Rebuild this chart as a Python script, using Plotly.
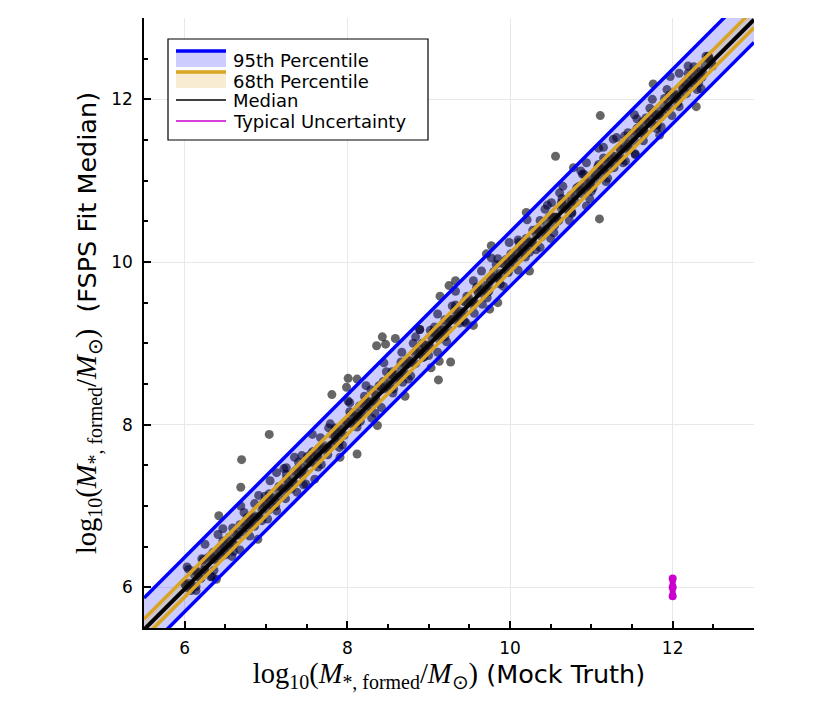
import plotly.graph_objects as go

# === Dados === #
# pontos densos ao longo da diagonal (verdade vs. ajuste)
x_core_a = [6.00, 6.08, 6.16, 6.24, 6.32, 6.40, 6.48, 6.56, 6.64, 6.72, 6.80, 6.88, 6.96, 7.04, 7.12, 7.20,
            7.28, 7.36, 7.44, 7.52, 7.60, 7.68, 7.76, 7.84, 7.92, 8.00, 8.08, 8.16, 8.24, 8.32, 8.40, 8.48,
            8.56, 8.64, 8.72, 8.80, 8.88, 8.96, 9.04, 9.12, 9.20, 9.28, 9.36, 9.44, 9.52, 9.60, 9.68, 9.76,
            9.84, 9.92, 10.00, 10.08, 10.16, 10.24, 10.32, 10.40, 10.48, 10.56, 10.64, 10.72, 10.80, 10.88,
            10.96, 11.04, 11.12, 11.20, 11.28, 11.36, 11.44, 11.52, 11.60, 11.68, 11.76, 11.84, 11.92, 12.00,
            12.08, 12.16, 12.24, 12.32, 12.40, 12.48]
y_core_a = [6.04, 6.02, 6.18, 6.21, 6.39, 6.39, 6.53, 6.48, 6.65, 6.68, 6.86, 6.86, 6.99, 7.08, 7.06, 7.22,
            7.25, 7.43, 7.43, 7.57, 7.52, 7.69, 7.72, 7.90, 7.90, 8.03, 8.12, 8.10, 8.26, 8.29, 8.47, 8.47,
            8.61, 8.56, 8.73, 8.76, 8.94, 8.94, 9.07, 9.16, 9.14, 9.30, 9.33, 9.51, 9.51, 9.65, 9.60, 9.77,
            9.80, 9.98, 9.98, 10.11, 10.20, 10.18, 10.34, 10.37, 10.55, 10.55, 10.69, 10.64, 10.81, 10.84,
            11.02, 11.02, 11.15, 11.24, 11.22, 11.38, 11.41, 11.59, 11.59, 11.73, 11.68, 11.85, 11.88, 12.06,
            12.06, 12.19, 12.28, 12.26, 12.42, 12.45]

x_core_b = [6.04, 6.12, 6.20, 6.28, 6.36, 6.44, 6.52, 6.60, 6.68, 6.76, 6.84, 6.92, 7.00, 7.08, 7.16, 7.24,
            7.32, 7.40, 7.48, 7.56, 7.64, 7.72, 7.80, 7.88, 7.96, 8.04, 8.12, 8.20, 8.28, 8.36, 8.44, 8.52,
            8.60, 8.68, 8.76, 8.84, 8.92, 9.00, 9.08, 9.16, 9.24, 9.32, 9.40, 9.48, 9.56, 9.64, 9.72, 9.80,
            9.88, 9.96, 10.04, 10.12, 10.20, 10.28, 10.36, 10.44, 10.52, 10.60, 10.68, 10.76, 10.84, 10.92,
            11.00, 11.08, 11.16, 11.24, 11.32, 11.40, 11.48, 11.56, 11.64, 11.72, 11.80, 11.88, 11.96, 12.04,
            12.12, 12.20, 12.28, 12.36, 12.44]
y_core_b = [5.99, 6.15, 6.11, 6.36, 6.34, 6.49, 6.52, 6.53, 6.77, 6.73, 6.86, 6.87, 7.03, 6.99, 7.24, 7.22,
            7.37, 7.40, 7.41, 7.65, 7.61, 7.74, 7.75, 7.91, 7.87, 8.12, 8.10, 8.25, 8.28, 8.29, 8.53, 8.49,
            8.62, 8.63, 8.79, 8.75, 9.00, 8.98, 9.13, 9.16, 9.17, 9.41, 9.37, 9.50, 9.51, 9.67, 9.63, 9.88,
            9.86, 10.01, 10.04, 10.05, 10.29, 10.25, 10.38, 10.39, 10.55, 10.51, 10.76, 10.74, 10.89, 10.92,
            10.93, 11.17, 11.13, 11.26, 11.27, 11.43, 11.39, 11.64, 11.62, 11.77, 11.80, 11.81, 12.05, 12.01,
            12.14, 12.15, 12.31, 12.27, 12.52]

x_core_c = [6.05, 6.15, 6.25, 6.35, 6.45, 6.55, 6.65, 6.75, 6.85, 6.95, 7.05, 7.15, 7.25, 7.35, 7.45, 7.55,
            7.65, 7.75, 7.85, 7.95, 8.05, 8.15, 8.25, 8.35, 8.45, 8.55, 8.65, 8.75, 8.85, 8.95, 9.05, 9.15,
            9.25, 9.35, 9.45, 9.55, 9.65, 9.75, 9.85, 9.95, 10.05, 10.15, 10.25, 10.35, 10.45, 10.55, 10.65,
            10.75, 10.85, 10.95, 11.05, 11.15, 11.25, 11.35, 11.45, 11.55, 11.65, 11.75, 11.85, 11.95, 12.05,
            12.15, 12.25, 12.35, 12.45]
y_core_c = [6.05, 6.20, 6.21, 6.43, 6.38, 6.57, 6.64, 6.81, 6.80, 6.95, 7.10, 7.11, 7.33, 7.28, 7.47, 7.54,
            7.71, 7.70, 7.85, 8.00, 8.01, 8.23, 8.18, 8.37, 8.44, 8.61, 8.60, 8.75, 8.90, 8.91, 9.13, 9.08,
            9.27, 9.34, 9.51, 9.50, 9.65, 9.80, 9.81, 10.03, 9.98, 10.17, 10.24, 10.41, 10.40, 10.55, 10.70,
            10.71, 10.93, 10.88, 11.07, 11.14, 11.31, 11.30, 11.45, 11.60, 11.61, 11.83, 11.78, 11.97, 12.04,
            12.21, 12.20, 12.35, 12.50]

x_core_d = [6.01, 6.07, 6.13, 6.19, 6.25, 6.31, 6.37, 6.43, 6.49, 6.55, 6.61, 6.67, 6.73, 6.79, 6.85, 6.91,
            6.97, 7.03, 7.09, 7.15, 7.21, 7.27, 7.33, 7.39, 7.45, 7.51, 7.57, 7.63, 7.69, 7.75, 7.81, 7.87,
            7.93, 7.99, 8.05, 8.11, 8.17, 8.23, 8.29, 8.35, 8.41, 8.47, 8.53, 8.59, 8.65, 8.71, 8.77, 8.83,
            8.89, 8.95, 9.01, 9.07, 9.13, 9.19, 9.25, 9.31, 9.37, 9.43, 9.49, 9.55, 9.61, 9.67, 9.73, 9.79,
            9.85, 9.91, 9.97, 10.03, 10.09, 10.15, 10.21, 10.27, 10.33, 10.39, 10.45, 10.51, 10.57, 10.63,
            10.69, 10.75, 10.81, 10.87, 10.93, 10.99, 11.05, 11.11, 11.17, 11.23, 11.29, 11.35, 11.41, 11.47,
            11.53, 11.59, 11.65, 11.71, 11.77, 11.83, 11.89, 11.95, 12.01, 12.07, 12.13, 12.19, 12.25, 12.31,
            12.37, 12.43, 12.49]
y_core_d = [6.04, 6.03, 6.20, 6.11, 6.26, 6.36, 6.35, 6.46, 6.45, 6.62, 6.53, 6.68, 6.78, 6.77, 6.88, 6.87,
            7.04, 6.95, 7.10, 7.20, 7.19, 7.30, 7.29, 7.46, 7.37, 7.52, 7.62, 7.61, 7.72, 7.71, 7.88, 7.79,
            7.94, 8.04, 8.03, 8.14, 8.13, 8.30, 8.21, 8.36, 8.46, 8.45, 8.56, 8.55, 8.72, 8.63, 8.78, 8.88,
            8.87, 8.98, 8.97, 9.14, 9.05, 9.20, 9.30, 9.29, 9.40, 9.39, 9.56, 9.47, 9.62, 9.72, 9.71, 9.82,
            9.81, 9.98, 9.89, 10.04, 10.14, 10.13, 10.24, 10.23, 10.40, 10.31, 10.46, 10.56, 10.55, 10.66,
            10.65, 10.82, 10.73, 10.88, 10.98, 10.97, 11.08, 11.07, 11.24, 11.15, 11.30, 11.40, 11.39, 11.50,
            11.49, 11.66, 11.57, 11.72, 11.82, 11.81, 11.92, 11.91, 12.08, 11.99, 12.14, 12.24, 12.23, 12.34,
            12.33, 12.50, 12.41]

# pontos mais espalhados dentro da faixa de 95%
x_wide_a = [6.03, 6.14, 6.25, 6.36, 6.47, 6.58, 6.69, 6.80, 6.91, 7.02, 7.13, 7.24, 7.35, 7.46, 7.57, 7.68,
            7.79, 7.90, 8.01, 8.12, 8.23, 8.34, 8.45, 8.56, 8.67, 8.78, 8.89, 9.00, 9.11, 9.22, 9.33, 9.44,
            9.55, 9.66, 9.77, 9.88, 9.99, 10.10, 10.21, 10.32, 10.43, 10.54, 10.65, 10.76, 10.87, 10.98,
            11.09, 11.20, 11.31, 11.42, 11.53, 11.64, 11.75, 11.86, 11.97, 12.08, 12.19, 12.30, 12.41]
y_wide_a = [6.25, 5.96, 6.53, 6.21, 6.72, 6.38, 7.00, 6.63, 7.13, 6.84, 7.41, 7.09, 7.60, 7.26, 7.88, 7.51,
            8.01, 7.72, 8.29, 7.97, 8.48, 8.14, 8.76, 8.39, 8.89, 8.60, 9.17, 8.85, 9.36, 9.02, 9.64, 9.27,
            9.77, 9.48, 10.05, 9.73, 10.24, 9.90, 10.52, 10.15, 10.65, 10.36, 10.93, 10.61, 11.12, 10.78,
            11.40, 11.03, 11.53, 11.24, 11.81, 11.49, 12.00, 11.66, 12.28, 11.91, 12.41, 12.12, 12.53]

x_wide_b = [6.08, 6.21, 6.34, 6.47, 6.60, 6.73, 6.86, 6.99, 7.12, 7.25, 7.38, 7.51, 7.64, 7.77, 7.90, 8.03,
            8.16, 8.29, 8.42, 8.55, 8.68, 8.81, 8.94, 9.07, 9.20, 9.33, 9.46, 9.59, 9.72, 9.85, 9.98, 10.11,
            10.24, 10.37, 10.50, 10.63, 10.76, 10.89, 11.02, 11.15, 11.28, 11.41, 11.54, 11.67, 11.80, 11.93,
            12.06, 12.19, 12.32, 12.45]
y_wide_b = [5.96, 6.35, 6.13, 6.57, 6.44, 6.92, 6.75, 7.12, 7.00, 7.39, 7.17, 7.61, 7.48, 7.96, 7.79, 8.16,
            8.04, 8.43, 8.21, 8.65, 8.52, 9.00, 8.83, 9.20, 9.08, 9.47, 9.25, 9.69, 9.56, 10.04, 9.87, 10.24,
            10.12, 10.51, 10.29, 10.73, 10.60, 11.08, 10.91, 11.28, 11.16, 11.55, 11.33, 11.77, 11.64, 12.12,
            11.95, 12.32, 12.20, 12.50]

x_wide_c = [6.05, 6.14, 6.23, 6.32, 6.41, 6.50, 6.59, 6.68, 6.77, 6.86, 6.95, 7.04, 7.13, 7.22, 7.31, 7.40,
            7.49, 7.58, 7.67, 7.76, 7.85, 7.94, 8.03, 8.12, 8.21, 8.30, 8.39, 8.48, 8.57, 8.66, 8.75, 8.84,
            8.93, 9.02, 9.11, 9.20, 9.29, 9.38, 9.47, 9.56, 9.65, 9.74, 9.83, 9.92, 10.01, 10.10, 10.19, 10.28,
            10.37, 10.46, 10.55, 10.64, 10.73, 10.82, 10.91, 11.00, 11.09, 11.18, 11.27, 11.36, 11.45, 11.54,
            11.63, 11.72, 11.81, 11.90, 11.99, 12.08, 12.17, 12.26, 12.35, 12.44]
y_wide_c = [6.22, 6.01, 6.34, 6.13, 6.65, 6.40, 6.73, 6.46, 6.86, 7.03, 6.82, 7.15, 6.94, 7.46, 7.21, 7.54,
            7.27, 7.67, 7.84, 7.63, 7.96, 7.75, 8.27, 8.02, 8.35, 8.08, 8.48, 8.65, 8.44, 8.77, 8.56, 9.08,
            8.83, 9.16, 8.89, 9.29, 9.46, 9.25, 9.58, 9.37, 9.89, 9.64, 9.97, 9.70, 10.10, 10.27, 10.06, 10.39,
            10.18, 10.70, 10.45, 10.78, 10.51, 10.91, 11.08, 10.87, 11.20, 10.99, 11.51, 11.26, 11.59, 11.32,
            11.72, 11.89, 11.68, 12.01, 11.80, 12.32, 12.07, 12.40, 12.13, 12.53]

# pontos fora da faixa (outliers)
x_out = [7.04, 6.70, 6.69, 6.42, 7.81, 8.01, 8.12, 7.99, 8.37, 8.12, 7.91, 7.60, 6.90, 6.39, 7.05, 7.25,
         7.44, 8.43, 8.59, 8.36, 8.47, 9.27, 9.13, 9.12, 9.03, 8.71, 9.55, 9.75, 9.85, 9.14, 9.25, 9.33,
         8.89, 10.20, 9.77, 9.71, 10.24, 11.11, 10.56, 11.76, 12.29, 11.84, 11.10, 10.78, 10.94, 11.15,
         11.56, 11.39, 10.94, 10.61, 10.51]
y_out = [7.88, 7.57, 7.23, 6.88, 8.37, 8.57, 8.56, 8.46, 7.99, 7.64, 7.60, 7.33, 6.59, 6.10, 7.31, 7.47,
         7.62, 9.08, 9.06, 8.97, 8.99, 8.77, 8.78, 8.55, 8.70, 8.35, 9.22, 9.42, 9.50, 9.58, 9.71, 9.77,
         9.17, 10.61, 10.20, 10.10, 9.89, 11.80, 11.30, 12.19, 11.91, 11.56, 10.53, 11.16, 11.22, 11.41,
         11.76, 11.22, 10.69, 10.85, 10.73]

# faixas de percentis (extremos em x = 5.5 e x = 13)
x_faixa = [5.5, 13.0]
p95_inf = [5.20, 12.70]
p95_sup = [5.87, 13.37]
p68_inf = [5.38, 12.88]
p68_sup = [5.61, 13.11]
mediana = [5.48, 12.98]

# incerteza típica
x_inc = [12.0, 12.0, 12.0]
y_inc = [5.89, 6.00, 6.11]

legenda = ["95th Percentile", "68th Percentile", "Median", "Typical Uncertainty"]

# === Plot === #
azul = "#0000FF"
ouro = "#DAA520"
magenta = "#CC00CC"

x_pts = x_core_a + x_core_b + x_core_c + x_core_d + x_wide_a + x_wide_b + x_wide_c + x_out
y_pts = y_core_a + y_core_b + y_core_c + y_core_d + y_wide_a + y_wide_b + y_wide_c + y_out

fig = go.Figure()

fig.add_trace(go.Scatter(
    x=x_pts, y=y_pts, mode="markers",
    marker=dict(size=9, color="rgba(0,0,0,0.6)", line=dict(width=0)),
    hoverinfo="skip",
))

# 95%
fig.add_trace(go.Scatter(x=x_faixa, y=p95_inf, mode="lines", line=dict(width=0, color=azul), hoverinfo="skip"))
fig.add_trace(go.Scatter(x=x_faixa, y=p95_sup, mode="lines", line=dict(width=3.5, color=azul),
                         fill="tonexty", fillcolor="rgba(0,0,255,0.2)"))
# 68%
fig.add_trace(go.Scatter(x=x_faixa, y=p68_inf, mode="lines", line=dict(width=0, color=ouro), hoverinfo="skip"))
fig.add_trace(go.Scatter(x=x_faixa, y=p68_sup, mode="lines", line=dict(width=3.5, color=ouro),
                         fill="tonexty", fillcolor="rgba(218,165,32,0.2)"))

# linhas inferiores por cima
fig.add_trace(go.Scatter(x=x_faixa, y=p95_inf, mode="lines", line=dict(width=3.5, color=azul), hoverinfo="skip"))
fig.add_trace(go.Scatter(x=x_faixa, y=p68_inf, mode="lines", line=dict(width=3.5, color=ouro), hoverinfo="skip"))
fig.add_trace(go.Scatter(x=x_faixa, y=mediana, mode="lines", line=dict(width=4, color="black")))

fig.add_trace(go.Scatter(x=x_inc, y=y_inc, mode="lines+markers",
                         line=dict(width=6, color=magenta), marker=dict(size=8, color=magenta),
                         hoverinfo="skip"))

# === Legenda manual (caixa, amostras e textos) === #
def px(sx):
    return (sx - 144) / 610


def py(sy):
    return (628 - sy) / 610


fig.add_shape(type="rect", xref="paper", yref="paper", x0=px(168), x1=px(428), y0=py(140), y1=py(39),
              fillcolor="white", line=dict(color="black", width=1.2), layer="above")
fig.add_shape(type="rect", xref="paper", yref="paper", x0=px(176), x1=px(226), y0=py(67), y1=py(51),
              fillcolor="rgba(0,0,255,0.2)", line=dict(width=0), layer="above")
fig.add_shape(type="rect", xref="paper", yref="paper", x0=px(176), x1=px(226), y0=py(88), y1=py(72),
              fillcolor="rgba(218,165,32,0.2)", line=dict(width=0), layer="above")
amostras = [(51, azul, 3.5), (72, ouro, 3.5), (100, "black", 1.5), (121, magenta, 1.5)]
for sy, cor, lw in amostras:
    fig.add_shape(type="line", xref="paper", yref="paper", x0=px(176), x1=px(226), y0=py(sy), y1=py(sy),
                  line=dict(color=cor, width=lw), layer="above")
for sy, txt in zip([60, 81, 100.5, 121], legenda):
    fig.add_annotation(xref="paper", yref="paper", x=px(231), y=py(sy), text=txt, showarrow=False,
                       xanchor="left", yanchor="middle", font=dict(size=18, color="black"))

serif = "font-family:'Liberation Serif', serif"
math = f"<span style=\"{serif}\">log<sub>10</sub>(<i>M</i><sub>*, formed</sub>/<i>M</i><sub>⊙</sub>)</span>"
tit_x = math + "<span style=\"font-size:25.5px\"> (Mock Truth)</span>"
tit_y = math + "<span style=\"font-size:25.5px\">  (FSPS Fit Median)</span>"

eixo = dict(
    range=[5.5, 13], tickvals=[6, 8, 10, 12],
    showline=True, linecolor="black", linewidth=1.5, mirror=False,
    ticks="inside", ticklen=7, tickwidth=1.5, tickcolor="black",
    minor=dict(ticks="inside", ticklen=4, tickwidth=1.5, tickcolor="black", dtick=0.5, showgrid=False),
    showgrid=True, gridcolor="#e8e8e8", gridwidth=1, zeroline=False,
    tickfont=dict(size=17, color="black"),
)

# a página tem 8 px de margem no corpo: as margens compensam esse deslocamento
fig.update_layout(
    xaxis=dict(eixo, title=dict(text=tit_x, font=dict(size=28.5, color="black"), standoff=2),
               ticklabelstandoff=4),
    yaxis=dict(eixo, title=dict(text=tit_y, font=dict(size=28.5, color="black"), standoff=6),
               ticklabelstandoff=6),
    showlegend=False,
    font=dict(family="DejaVu Sans", color="black"),
    plot_bgcolor="White",
    paper_bgcolor="White",
    template="plotly_white",
    margin=dict(l=136, r=84, t=10, b=92),
    width=830, height=712,
)

fig.write_html("out.html")
